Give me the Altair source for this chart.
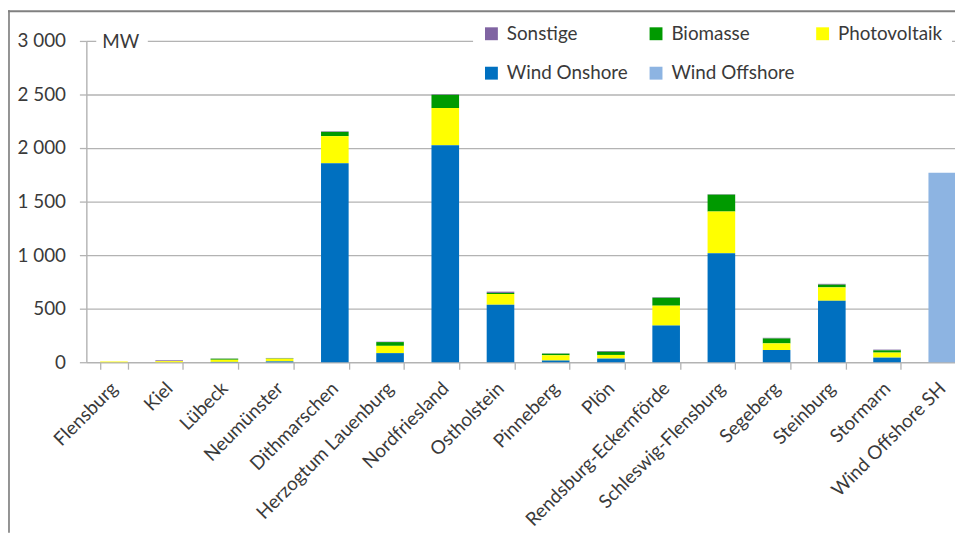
import altair as alt
import pandas as pd

categories = ["Flensburg", "Kiel", "Lübeck", "Neumünster", "Dithmarschen",
              "Herzogtum Lauenburg", "Nordfriesland", "Ostholstein", "Pinneberg",
              "Plön", "Rendsburg-Eckernförde", "Schleswig-Flensburg", "Segeberg",
              "Steinburg", "Stormarn", "Wind Offshore SH"]
wind_onshore = [0, 0, 3, 8, 1858, 85, 2025, 537, 16, 34, 342, 1018, 114, 574, 43, 0]
photovoltaik = [7, 10, 20, 25, 253, 68, 348, 100, 49, 34, 186, 389, 62, 125, 47, 0]
biomasse = [0, 0, 10, 3, 40, 35, 124, 10, 15, 30, 74, 158, 46, 25, 21, 0]
sonstige = [0, 8, 2, 4, 5, 4, 5, 12, 3, 7, 5, 4, 6, 8, 7, 0]
wind_offshore = [0] * 15 + [1770]

series_names = ["Sonstige", "Biomasse", "Photovoltaik", "Wind Onshore", "Wind Offshore"]
series_colors = ["#8064A2", "#009A00", "#FFFF00", "#0070C0", "#8DB4E2"]
stack_order = {"Wind Onshore": 0, "Photovoltaik": 1, "Biomasse": 2, "Sonstige": 3, "Wind Offshore": 4}
y_ticks = [0, 500, 1000, 1500, 2000, 2500, 3000]

series_values = {
    "Sonstige": sonstige,
    "Biomasse": biomasse,
    "Photovoltaik": photovoltaik,
    "Wind Onshore": wind_onshore,
    "Wind Offshore": wind_offshore,
}

rows = []
for s, vals in series_values.items():
    for c, v in zip(categories, vals):
        if v > 0:
            rows.append({"Kreis": c, "Serie": s, "MW": v, "ord": stack_order[s]})
df = pd.DataFrame(rows)

FONT = "Lato"
TXT = "#3a3a3a"
GRID = "#b3b3b3"
W, H = 876, 324
PL, PT, PB = 79, 31, 172

bars = alt.Chart(df).mark_bar().encode(
    x=alt.X("Kreis:N", sort=categories, title=None,
            scale=alt.Scale(range=[0, 891], paddingInner=0.5, paddingOuter=0.25),
            axis=alt.Axis(labelAngle=-45, labelAlign="right", labelBaseline="middle",
                          labelFontSize=19, labelFont=FONT, labelColor=TXT,
                          labelPadding=16, labelLimit=0, tickBand="extent", tickSize=7,
                          tickColor=GRID, domainColor=GRID, domainWidth=1.3,
                          tickWidth=1.3, labelOverlap=False)),
    y=alt.Y("sum(MW):Q", title=None,
            scale=alt.Scale(domain=[0, 3000], nice=False),
            axis=alt.Axis(values=y_ticks, labelExpr="replace(format(datum.value, ','), ',', ' ')",
                          labelFontSize=19, labelFont=FONT, labelColor=TXT,
                          labelPadding=14, tickSize=7, tickColor=GRID, tickWidth=1.3,
                          domainColor=GRID, domainWidth=1.3,
                          grid=True, gridColor=GRID, gridWidth=1.3)),
    color=alt.Color("Serie:N", scale=alt.Scale(domain=series_names, range=series_colors),
                    legend=alt.Legend(title=None, orient="none", legendX=390, legendY=-26,
                                      columns=3, direction="horizontal",
                                      fillColor="white", padding=9,
                                      symbolType="square", symbolSize=169,
                                      symbolStrokeWidth=0, labelFontSize=19,
                                      labelFont=FONT, labelColor=TXT, labelOffset=6,
                                      columnPadding=18, rowPadding=20)),
    order=alt.Order("ord:Q", sort="ascending"),
)

one = pd.DataFrame({"k": [0]})
mw_bg = alt.Chart(one).mark_rect(color="white").encode(
    x=alt.value(10), x2=alt.value(62), y=alt.value(-9), y2=alt.value(9))
mw_txt = alt.Chart(one).mark_text(text="MW", align="left", baseline="middle",
                                  fontSize=19, font=FONT, color=TXT).encode(
    x=alt.value(16), y=alt.value(1))
frame_left = alt.Chart(one).mark_rule(color="#707070", strokeWidth=1.5).encode(
    x=alt.value(-78), y=alt.value(-31), y2=alt.value(H + PB))
frame_top = alt.Chart(one).mark_rule(color="#808080", strokeWidth=2).encode(
    x=alt.value(-79), x2=alt.value(W), y=alt.value(-30))

chart = alt.layer(bars, mw_bg, mw_txt, frame_left, frame_top).properties(
    width=W, height=H,
    autosize=alt.AutoSizeParams(type="none"),
    padding={"left": PL, "top": PT, "right": 0, "bottom": PB},
).configure_view(stroke=None).configure(background="white")

chart.save("out.html", embed_options={"renderer": "svg", "actions": False})
